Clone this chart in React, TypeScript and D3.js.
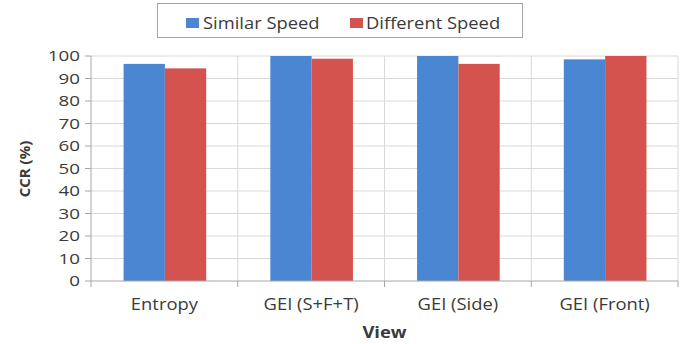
import React from "react";
import * as d3 from "d3";

const categories = ["Entropy", "GEI (S+F+T)", "GEI (Side)", "GEI (Front)"];
const seriesNames = ["Similar Speed", "Different Speed"];
const similarSpeed = [96.5, 100, 100, 98.5];
const differentSpeed = [94.5, 98.8, 96.5, 100];
const yTicks = [0, 10, 20, 30, 40, 50, 60, 70, 80, 90, 100];
const colors = ["#4A86D2", "#D5534F"];

const W = 689;
const H = 344;
const plot = { left: 91, right: 678, top: 56, bottom: 281 };
const FONT = "'Open Sans', sans-serif";
const TXT = "#3a3a3a";

function T({ x, y, sx = 1, anchor = "start", size, weight = "normal", children, dy }: any) {
  return (
    <text
      transform={`translate(${x},${y}) scale(${sx},1)`}
      textAnchor={anchor}
      fontFamily={FONT}
      fontSize={size}
      fontWeight={weight}
      fill={TXT}
      dy={dy}
    >
      {children}
    </text>
  );
}

export default function App() {
  const x = d3.scaleBand<string>().domain(categories).range([plot.left, plot.right]).padding(0);
  const bw = x.bandwidth();
  const xs = d3
    .scaleBand<string>()
    .domain(seriesNames)
    .range([bw * 0.222, bw * 0.785])
    .padding(0);
  const y = d3.scaleLinear().domain([0, 100]).range([plot.bottom, plot.top]);
  const series = [similarSpeed, differentSpeed];
  const boundaries = categories.map((c) => (x(c) as number) + bw);

  return (
    <svg width={W} height={H} style={{ position: "absolute", left: 0, top: 0, background: "#fff" }}>
      <rect x={0} y={0} width={W} height={H} fill="#fff" />
      {/* horizontal gridlines */}
      {yTicks.filter((t) => t > 0).map((t) => (
        <line key={"g" + t} x1={plot.left} x2={plot.right} y1={y(t)} y2={y(t)} stroke="#d9d9d9" strokeWidth={1} />
      ))}
      {/* vertical gridlines */}
      {boundaries.map((b, i) => (
        <line key={"v" + i} x1={b} x2={b} y1={plot.top} y2={plot.bottom} stroke="#d9d9d9" strokeWidth={1} />
      ))}
      {/* bars */}
      {categories.map((c, i) =>
        seriesNames.map((s, j) => (
          <rect
            key={c + s}
            x={(x(c) as number) + (xs(s) as number)}
            y={y(series[j][i])}
            width={xs.bandwidth()}
            height={y(0) - y(series[j][i])}
            fill={colors[j]}
          />
        ))
      )}
      {/* axes */}
      <line x1={plot.left} x2={plot.left} y1={plot.top} y2={plot.bottom} stroke="#a6a6a6" />
      <line x1={plot.left} x2={plot.right} y1={plot.bottom} y2={plot.bottom} stroke="#a6a6a6" />
      {yTicks.map((t) => (
        <line key={"yt" + t} x1={plot.left - 6} x2={plot.left} y1={y(t)} y2={y(t)} stroke="#a6a6a6" />
      ))}
      {[plot.left, ...boundaries].map((b, i) => (
        <line key={"xt" + i} x1={b} x2={b} y1={plot.bottom} y2={plot.bottom + 6} stroke="#a6a6a6" />
      ))}
      {yTicks.map((t) => (
        <T key={"yl" + t} x={80} y={y(t)} dy="0.36em" anchor="end" size={15} sx={1.25}>
          {t}
        </T>
      ))}
      {categories.map((c) => (
        <T key={"xl" + c} x={(x(c) as number) + bw / 2} y={310} anchor="middle" size={16} sx={1.15}>
          {c}
        </T>
      ))}
      <T x={(plot.left + plot.right) / 2} y={338} anchor="middle" size={16} sx={1.15} weight="bold">
        View
      </T>
      <text
        transform="translate(30,169) rotate(-90)"
        textAnchor="middle"
        fontFamily={FONT}
        fontSize={15}
        fontWeight="bold"
        fill={TXT}
      >
        CCR (%)
      </text>
      {/* legend */}
      <rect x={157.5} y={3.5} width={365} height={34} fill="#fff" stroke="#a6a6a6" />
      <rect x={186} y={18} width={13} height={10} fill={colors[0]} />
      <T x={203} y={29} size={17} sx={1.08}>
        {seriesNames[0]}
      </T>
      <rect x={350} y={18} width={13} height={10} fill={colors[1]} />
      <T x={366} y={29} size={17} sx={1.08}>
        {seriesNames[1]}
      </T>
    </svg>
  );
}
